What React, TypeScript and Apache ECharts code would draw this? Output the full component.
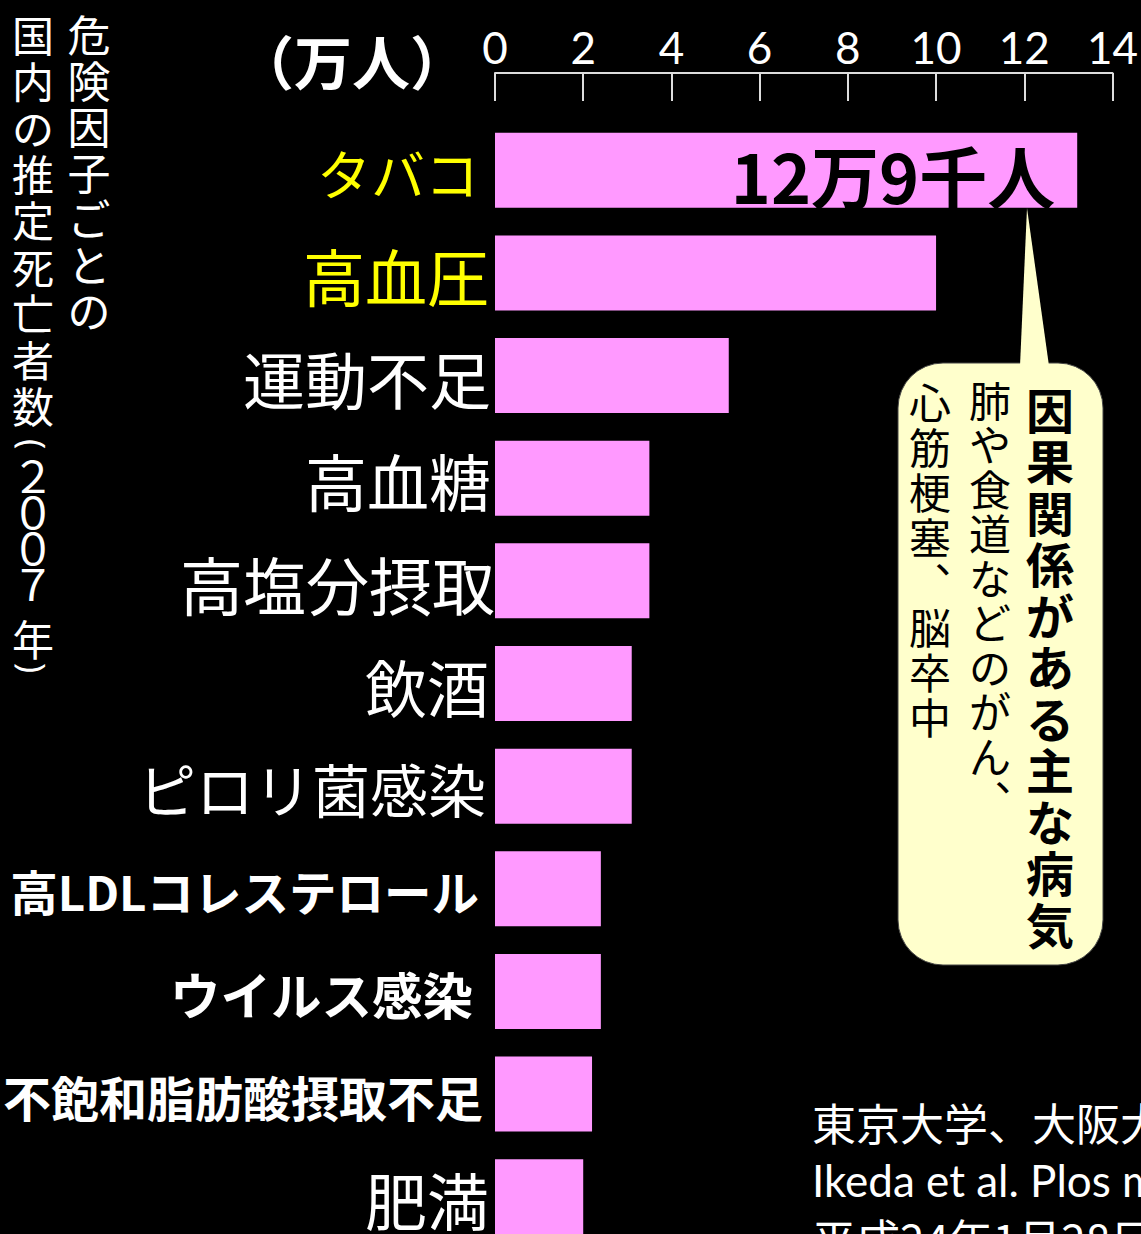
import React, { useEffect, useRef } from "react";
import * as echarts from "echarts";

const categories = [
  "タバコ",
  "高血圧",
  "運動不足",
  "高血糖",
  "高塩分摂取",
  "飲酒",
  "ピロリ菌感染",
  "高LDLコレステロール",
  "ウイルス感染",
  "不飽和脂肪酸摂取不足",
  "肥満",
];
const values = [13.2, 10.0, 5.3, 3.5, 3.5, 3.1, 3.1, 2.4, 2.4, 2.2, 2.0];
const xTicks = { min: 0, max: 14, interval: 2 };
const topValueLabel = "12万9千人";
const unitLabel = "（万人）";
const titleCol1 = "危険因子ごとの";
const titleCol2a = "国内の推定死亡者数";
const titleCol2year = "２００７";
const titleCol2nen = "年";
const calloutCol1 = "因果関係がある主な病気";
const calloutCol2 = "肺や食道などのがん︑";
const calloutCol3 = "心筋梗塞︑脳卒中";
const sourceLines = ["東京大学、大阪大学ほか", "Ikeda et al. Plos medicine 2012", "平成24年1月28日"];

// per-category label styling
const labelStyles = [
  { size: 54, color: "#FFFF00", weight: "normal", pad: 12 },
  { size: 62, color: "#FFFF00", weight: "normal", pad: 2 },
  { size: 62, color: "#FFFFFF", weight: "normal", pad: 0 },
  { size: 62, color: "#FFFFFF", weight: "normal", pad: 0 },
  { size: 63, color: "#FFFFFF", weight: "normal", pad: -4 },
  { size: 62, color: "#FFFFFF", weight: "normal", pad: 2 },
  { size: 58, color: "#FFFFFF", weight: "normal", pad: 5 },
  { size: 47.5, color: "#FFFFFF", weight: "bold", pad: 12 },
  { size: 50.5, color: "#FFFFFF", weight: "bold", pad: 18 },
  { size: 48, color: "#FFFFFF", weight: "bold", pad: 8 },
  { size: 62, color: "#FFFFFF", weight: "normal", pad: 2 },
];

const JP = "'Noto Sans CJK JP', 'Noto Sans', sans-serif";

function vert(s: string) {
  return Array.from(s).join("\n");
}

function vText(text: string, x: number, y: number, fontSize: number, lineHeight: number, extra: any = {}) {
  return {
    type: "text",
    x,
    y,
    z: extra.z ?? 5,
    style: {
      text: vert(text),
      fill: extra.fill ?? "#fff",
      fontSize,
      lineHeight,
      fontWeight: extra.fontWeight ?? "normal",
      fontFamily: JP,
      textAlign: "center",
      textVerticalAlign: "top",
    },
  };
}

export default function App() {
  const ref = useRef<HTMLDivElement>(null);
  useEffect(() => {
    document.body.style.margin = "0";
    document.body.style.background = "#000";
    const chart = echarts.init(ref.current!, null, { renderer: "svg" });
    const rich: any = {};
    labelStyles.forEach((s, i) => {
      rich["c" + i] = {
        fontSize: s.size,
        color: s.color,
        fontWeight: s.weight,
        fontFamily: JP,
        padding: [4, s.pad, 0, 0],
      };
    });
    const data = values.map((v, i) =>
      i === 0
        ? {
            value: v,
            label: {
              show: true,
              position: "insideRight",
              distance: 22,
              offset: [0, 4],
              formatter: topValueLabel,
              color: "#000",
              fontSize: 68,
              fontWeight: "bold",
              fontFamily: JP,
            },
          }
        : v
    );
    chart.setOption({
      animation: false,
      backgroundColor: "#000",
      grid: { left: 494, right: 25, top: 119, height: 1129, containLabel: false },
      xAxis: {
        type: "value",
        position: "top",
        offset: 46,
        min: xTicks.min,
        max: xTicks.max,
        interval: xTicks.interval,
        axisLine: { show: true, lineStyle: { color: "#dddddd", width: 2 } },
        axisTick: { show: true, inside: true, length: 28, lineStyle: { color: "#dddddd", width: 2 } },
        axisLabel: { color: "#fff", fontSize: 44, fontFamily: "Lato, 'Noto Sans', sans-serif", margin: 4 },
        splitLine: { show: false },
      },
      yAxis: {
        type: "category",
        inverse: true,
        data: categories,
        axisLine: { show: false },
        axisTick: { show: false },
        axisLabel: {
          margin: 4,
          formatter: (v: string, i: number) => `{c${i}|${v}}`,
          rich,
        },
      },
      series: [
        {
          type: "bar",
          data,
          barWidth: 75,
          itemStyle: { color: "#FF99FF" },
          label: { show: false },
        },
      ],
      graphic: [
        {
          type: "text",
          x: 352,
          y: 60,
          style: {
            text: unitLabel,
            fill: "#fff",
            fontSize: 58,
            fontWeight: "bold",
            fontFamily: JP,
            textAlign: "center",
            textVerticalAlign: "middle",
          },
        },
        vText(titleCol1, 89, 10, 43, 46),
        vText(titleCol2a, 33, 10, 42, 46.4),
        {
          type: "text",
          x: 33,
          y: 444,
          rotation: -Math.PI / 2,
          style: {
            text: "(",
            fill: "#fff",
            fontSize: 34,
            fontFamily: "'Noto Sans', sans-serif",
            textAlign: "center",
            textVerticalAlign: "middle",
          },
        },
        vText(titleCol2year, 33, 455.5, 43, 36),
        vText(titleCol2nen, 33, 616, 42, 42),
        {
          type: "text",
          x: 33,
          y: 668,
          rotation: -Math.PI / 2,
          style: {
            text: ")",
            fill: "#fff",
            fontSize: 34,
            fontFamily: "'Noto Sans', sans-serif",
            textAlign: "center",
            textVerticalAlign: "middle",
          },
        },
        {
          type: "rect",
          shape: { x: 898, y: 363, width: 205, height: 602, r: 45 },
          style: { fill: "#FFFFCC", stroke: "#444", lineWidth: 1 },
          z: 10,
        },
        {
          type: "polygon",
          shape: { points: [[1020, 366], [1027, 208], [1049, 366]] },
          style: { fill: "#FFFFCC" },
          z: 11,
        },
        vText(calloutCol1, 1050, 382, 48, 51.5, { fill: "#000", fontWeight: "bold", z: 12 }),
        vText(calloutCol2, 990, 376, 42, 44.5, { fill: "#000", z: 12 }),
        vText(calloutCol3, 930, 378, 42, 45, { fill: "#000", z: 12 }),
        {
          type: "text",
          x: 812,
          y: 1122,
          style: {
            text: sourceLines[0],
            fill: "#fff",
            fontSize: 44,
            fontFamily: JP,
            textAlign: "left",
            textVerticalAlign: "middle",
          },
        },
        {
          type: "text",
          x: 812,
          y: 1180,
          style: {
            text: sourceLines[1],
            fill: "#fff",
            fontSize: 44,
            fontFamily: "Lato, 'Noto Sans', sans-serif",
            textAlign: "left",
            textVerticalAlign: "middle",
          },
        },
        {
          type: "text",
          x: 812,
          y: 1238,
          style: {
            text: sourceLines[2],
            fill: "#fff",
            fontSize: 44,
            fontFamily: JP,
            textAlign: "left",
            textVerticalAlign: "middle",
          },
        },
      ],
    });
    return () => chart.dispose();
  }, []);
  return (
    <div style={{ width: 1141, height: 1234, overflow: "hidden", background: "#000" }}>
      <div ref={ref} style={{ width: 1141, height: 1270, background: "#000" }} />
    </div>
  );
}
